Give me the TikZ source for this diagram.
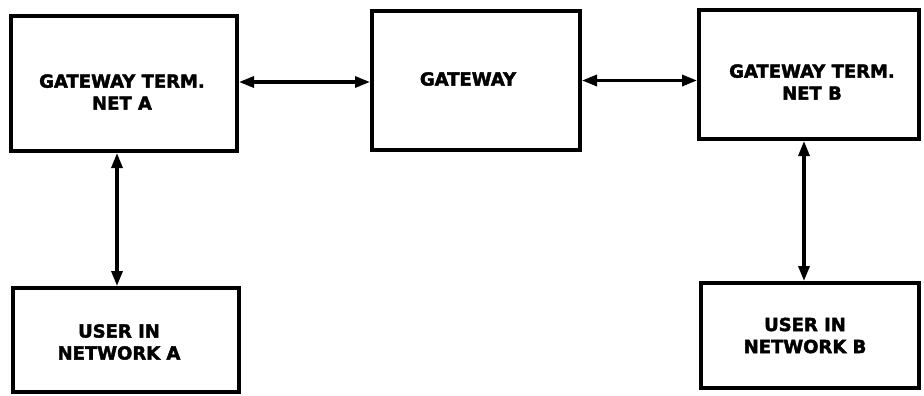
\documentclass[tikz,border=0pt]{standalone}
\usepackage{fontspec}
\newfontfamily\lblfont{DejaVu Sans}[FakeBold=2.2]
\usetikzlibrary{arrows.meta}
\tikzset{
  blk/.style={draw=black, line width=4pt, rectangle, inner sep=0pt},
  lbl/.style={font=\lblfont\bfseries\fontsize{18}{22}\selectfont, align=center, inner sep=0pt},
  link/.style={line width=3.2pt, {Triangle[length=15pt,width=11pt]}-{Triangle[length=15pt,width=11pt]}}
}
\begin{document}
\begin{tikzpicture}[x=1pt,y=-1pt]
\useasboundingbox[fill=white] (0,0) rectangle (924,396);
\node[blk, minimum width=226pt, minimum height=135pt,
  label={[lbl,xshift=-2pt,yshift=-8.5pt]center:GATEWAY TERM.\\NET A}] (A) at (124,83.5) {};
\node[blk, minimum width=208pt, minimum height=139pt,
  label={[lbl,xshift=-8pt,yshift=1.5pt]center:GATEWAY}] (G) at (476,80.5) {};
\node[blk, minimum width=220pt, minimum height=129pt,
  label={[lbl,xshift=3pt,yshift=-7.5pt]center:GATEWAY TERM.\\NET B}] (B) at (809,74.5) {};
\node[blk, minimum width=226pt, minimum height=104pt,
  label={[lbl,xshift=-7pt,yshift=-2pt]center:USER IN\\NETWORK A}] (UA) at (126,340) {};
\node[blk, minimum width=218pt, minimum height=105pt,
  label={[lbl,xshift=-5pt,yshift=0pt]center:USER IN\\NETWORK B}] (UB) at (810,335.5) {};
\draw[link] ([yshift=1.5pt]A.east) -- ([yshift=1.5pt]A.east -| G.west);
\draw[link] (G.east) -- (G.east -| B.west);
\draw[link] ([xshift=-7pt]A.south) -- ([xshift=-7pt]A.south |- UA.north);
\draw[link] ([xshift=-5pt]B.south) -- ([xshift=-5pt]B.south |- UB.north);
\end{tikzpicture}
\end{document}
